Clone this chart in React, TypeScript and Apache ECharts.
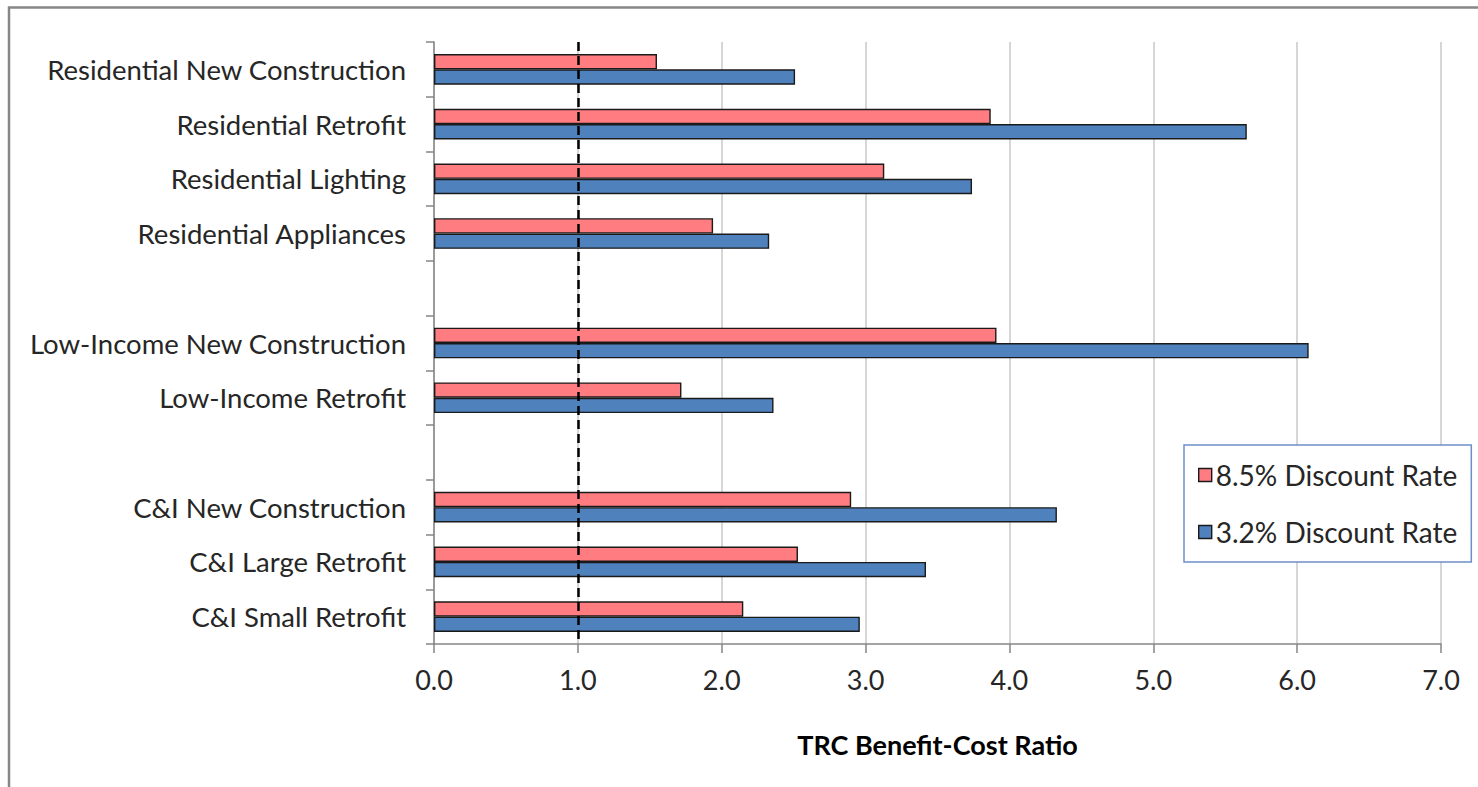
import React, { useEffect, useRef } from "react";
import * as echarts from "echarts";

// Program names, top to bottom; empty strings leave a gap between groups.
const categories: string[] = [
  "Residential New Construction",
  "Residential Retrofit",
  "Residential Lighting",
  "Residential Appliances",
  "",
  "Low-Income New Construction",
  "Low-Income Retrofit",
  "",
  "C&I New Construction",
  "C&I Large Retrofit",
  "C&I Small Retrofit",
];

const seriesNames: string[] = ["8.5% Discount Rate", "3.2% Discount Rate"];

// TRC benefit-cost ratios at the 8.5% discount rate
const rate85: (number | null)[] = [1.55, 3.87, 3.13, 1.94, null, 3.91, 1.72, null, 2.9, 2.53, 2.15];
// TRC benefit-cost ratios at the 3.2% discount rate
const rate32: (number | null)[] = [2.51, 5.65, 3.74, 2.33, null, 6.08, 2.36, null, 4.33, 3.42, 2.96];

const xTicks = { min: 0, max: 7, interval: 1 };
const breakEven = 1.0;

const FONT = "Lato, 'Noto Sans', sans-serif";

export default function App() {
  const ref = useRef<HTMLDivElement>(null);

  useEffect(() => {
    if (!ref.current) return;
    const chart = echarts.init(ref.current, undefined, { renderer: "svg" });
    const colors = ["#ff7c80", "#4f81bd"];

    chart.setOption({
      animation: false,
      backgroundColor: "#ffffff",
      textStyle: { fontFamily: FONT },
      graphic: [
        {
          type: "rect",
          shape: { x: 9, y: 7.5, width: 1500, height: 800 },
          style: { fill: "none", stroke: "#878787", lineWidth: 2.5 },
          silent: true,
        },
      ],
      grid: { left: 434, right: 37, top: 42, bottom: 143, containLabel: false },
      legend: {
        orient: "vertical",
        left: 1184,
        top: 445,
        padding: [16, 14, 16, 14],
        itemWidth: 13,
        itemHeight: 13,
        itemGap: 29,
        borderColor: "#6d8fc9",
        borderWidth: 1.5,
        backgroundColor: "#ffffff",
        icon: "rect",
        textStyle: { fontFamily: FONT, fontSize: 28, color: "#262626", padding: [0, 0, 0, -1] },
        data: seriesNames.map((n, i) => ({
          name: n,
          itemStyle: { color: colors[i], borderColor: "#1a1a1a", borderWidth: 1.4 },
        })),
      },
      xAxis: {
        type: "value",
        min: xTicks.min,
        max: xTicks.max,
        interval: xTicks.interval,
        name: "TRC Benefit-Cost Ratio",
        nameLocation: "middle",
        nameGap: 87,
        nameTextStyle: { fontFamily: FONT, fontSize: 27, fontWeight: "bold", color: "#000000" },
        axisLine: { show: true, lineStyle: { color: "#868686", width: 1.5 } },
        axisTick: { show: true, length: 9, lineStyle: { color: "#868686", width: 1.5 } },
        axisLabel: {
          fontFamily: FONT,
          fontSize: 27,
          color: "#262626",
          margin: 22,
          formatter: (v: number) => v.toFixed(1),
        },
        splitLine: { show: true, lineStyle: { color: "#c8c8c8", width: 1.5 } },
      },
      yAxis: {
        type: "category",
        inverse: true,
        data: categories,
        axisLine: { show: true, lineStyle: { color: "#868686", width: 1.5 } },
        axisTick: { show: true, length: 8, interval: 0, lineStyle: { color: "#868686", width: 1.5 } },
        axisLabel: { fontFamily: FONT, fontSize: 27.5, color: "#262626", margin: 28, interval: 0 },
        splitLine: { show: false },
      },
      series: [
        {
          name: seriesNames[0],
          type: "bar",
          data: rate85,
          barGap: "0%",
          barCategoryGap: "44%",
          itemStyle: { color: colors[0], borderColor: "#1a1a1a", borderWidth: 1.4 },
          markLine: {
            silent: true,
            symbol: "none",
            label: { show: false },
            lineStyle: { color: "#000000", type: [9, 5], width: 2.5 },
            data: [{ xAxis: breakEven }],
          },
        },
        {
          name: seriesNames[1],
          type: "bar",
          data: rate32,
          barGap: "0%",
          barCategoryGap: "44%",
          itemStyle: { color: colors[1], borderColor: "#1a1a1a", borderWidth: 1.4 },
        },
      ],
    });

    return () => chart.dispose();
  }, []);

  return (
    <div
      ref={ref}
      style={{ position: "fixed", left: 0, top: 0, width: 1478, height: 787, background: "#fff" }}
    />
  );
}
